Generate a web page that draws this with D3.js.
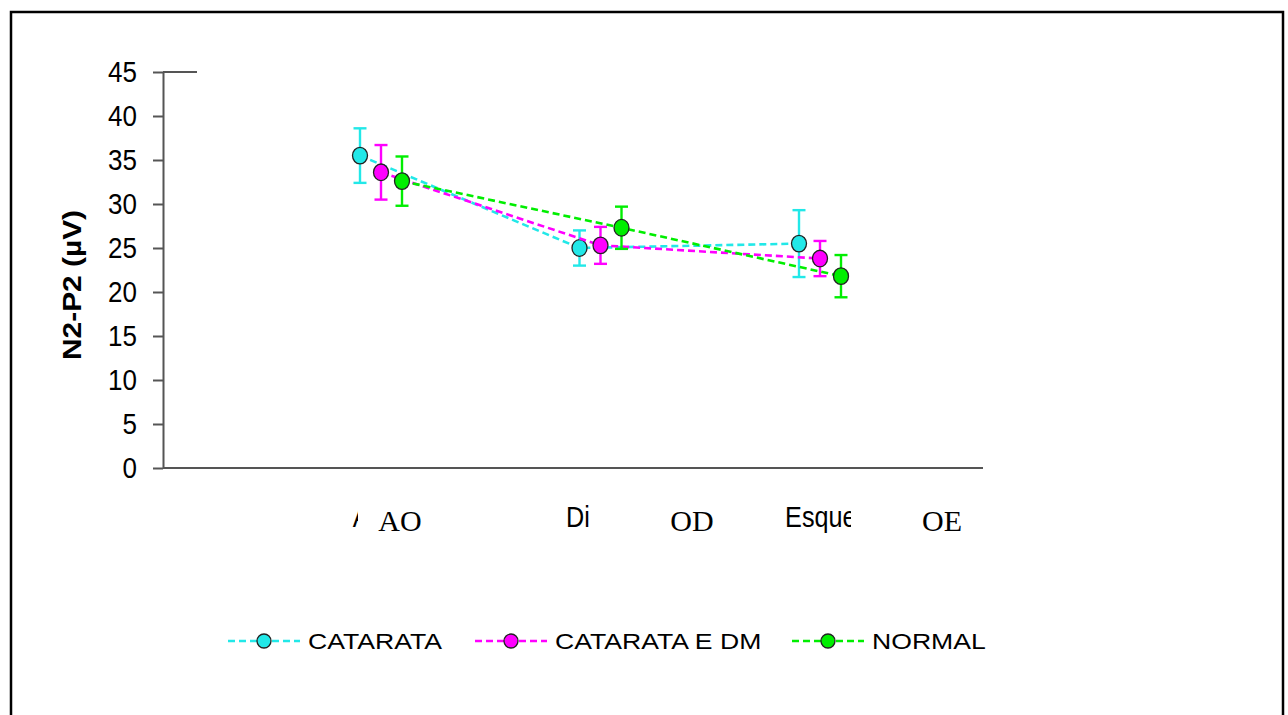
<!DOCTYPE html>
<html>
<head>
<meta charset="utf-8">
<script src="https://cdn.jsdelivr.net/npm/d3@7"></script>
<style>
  body { margin: 0; background: #fff; }
  svg { display: block; }
</style>
</head>
<body>
<div class="chart-wrapper"></div>
<script>
// categories (original labels, partly hidden) and the overlay labels
const categories = ["Ambos", "Direito", "Esquerdo"]
const overlayLabels = ["AO", "OD", "OE"]
const yTicks = [0, 5, 10, 15, 20, 25, 30, 35, 40, 45]

const seriesNames = ["CATARATA", "CATARATA E DM", "NORMAL"]
const seriesColors = ["#22e8e8", "#ff00ff", "#00ee00"]
const catarata = [35.5, 25.0, 25.5]
const catarataErr = [3.1, 2.0, 3.8]
const catarataDm = [33.6, 25.3, 23.8]
const catarataDmErr = [3.1, 2.1, 2.0]
const normal = [32.6, 27.3, 21.8]
const normalErr = [2.8, 2.4, 2.4]

const seriesValues = [catarata, catarataDm, normal]
const seriesErrors = [catarataErr, catarataDmErr, normalErr]

const width = 1288, height = 715

const svg = d3.select('.chart-wrapper')
  .append('svg')
  .attr('width', width)
  .attr('height', height)

// outer frame
svg.append('rect')
  .attr('x', 11).attr('y', 12)
  .attr('width', 1272).attr('height', 720)
  .attr('fill', 'none')
  .attr('stroke', '#000')
  .attr('stroke-width', 2.5)

const y = d3.scaleLinear().domain([0, 45]).range([468, 72])
const x = d3.scalePoint().domain(categories).range([381, 820])
const offset = d3.scalePoint().domain(seriesNames).range([-21, 21])

const axisLeft = 163, axisRight = 983

// y axis
const yAxis = svg.append('g')
  .attr('transform', 'translate(' + axisLeft + ',0)')
  .call(d3.axisLeft(y).tickValues(yTicks).tickSize(10).tickSizeOuter(0).tickPadding(16))
yAxis.select('.domain').attr('stroke', '#555').attr('stroke-width', 2)
yAxis.selectAll('.tick line').attr('stroke', '#555').attr('stroke-width', 2)
yAxis.selectAll('.tick text')
  .attr('font-family', 'Liberation Sans, Arial, sans-serif')
  .attr('font-size', 26)
  .attr('fill', '#000')
  .attr('transform', 'scale(1,1.12)')

// short stub at the top of the plot
svg.append('line')
  .attr('x1', axisLeft).attr('x2', 197)
  .attr('y1', y(45)).attr('y2', y(45))
  .attr('stroke', '#555').attr('stroke-width', 2)

// x axis line
svg.append('line')
  .attr('x1', axisLeft).attr('x2', axisRight)
  .attr('y1', y(0)).attr('y2', y(0))
  .attr('stroke', '#555').attr('stroke-width', 2)

// y label
svg.append('text')
  .attr('transform', 'translate(81,' + 285 + ') rotate(-90) scale(1.15,1)')
  .attr('text-anchor', 'middle')
  .attr('font-family', 'Liberation Sans, Arial, sans-serif')
  .attr('font-weight', 'bold')
  .attr('font-size', 26)
  .text('N2-P2 (\u00b5V)')

// series
seriesNames.forEach(function (name, i) {
  const vals = seriesValues[i]
  const errs = seriesErrors[i]
  const color = seriesColors[i]
  const pts = categories.map(function (c, k) {
    return { x: x(c) + offset(name), v: vals[k], e: errs[k] }
  })
  const g = svg.append('g')

  g.append('path')
    .datum(pts)
    .attr('fill', 'none')
    .attr('stroke', color)
    .attr('stroke-width', 2.6)
    .attr('stroke-dasharray', '7,4')
    .attr('d', d3.line().x(function (d) { return d.x }).y(function (d) { return y(d.v) }))

  const eb = g.selectAll('.err').data(pts).enter().append('g')
  eb.append('line')
    .attr('x1', function (d) { return d.x }).attr('x2', function (d) { return d.x })
    .attr('y1', function (d) { return y(d.v + d.e) }).attr('y2', function (d) { return y(d.v - d.e) })
    .attr('stroke', color).attr('stroke-width', 2.4)
  eb.append('line')
    .attr('x1', function (d) { return d.x - 6.5 }).attr('x2', function (d) { return d.x + 6.5 })
    .attr('y1', function (d) { return y(d.v + d.e) }).attr('y2', function (d) { return y(d.v + d.e) })
    .attr('stroke', color).attr('stroke-width', 2.4)
  eb.append('line')
    .attr('x1', function (d) { return d.x - 6.5 }).attr('x2', function (d) { return d.x + 6.5 })
    .attr('y1', function (d) { return y(d.v - d.e) }).attr('y2', function (d) { return y(d.v - d.e) })
    .attr('stroke', color).attr('stroke-width', 2.4)

  g.selectAll('.dot').data(pts).enter().append('ellipse')
    .attr('cx', function (d) { return d.x })
    .attr('cy', function (d) { return y(d.v) })
    .attr('rx', 7.5).attr('ry', 8.3)
    .attr('fill', color)
    .attr('stroke', '#222').attr('stroke-width', 1.3)
})

// original category labels
const labelDx = [11, 2, 19]
categories.forEach(function (c, k) {
  svg.append('text')
    .attr('transform', 'translate(' + (x(c) + labelDx[k]) + ',527) scale(1.05,1.2)')
    .attr('text-anchor', 'middle')
    .attr('font-family', 'Liberation Sans, Arial, sans-serif')
    .attr('font-size', 24)
    .text(c)
})

// white boxes that hide part of the labels
const boxes = [[358, 490, 90, 56], [591, 485, 132, 60], [851, 485, 125, 60]]
boxes.forEach(function (b) {
  svg.append('rect')
    .attr('x', b[0]).attr('y', b[1]).attr('width', b[2]).attr('height', b[3])
    .attr('fill', '#fff')
})

const overlayX = [400, 692, 942]
overlayLabels.forEach(function (t, k) {
  svg.append('text')
    .attr('x', overlayX[k]).attr('y', 531)
    .attr('text-anchor', 'middle')
    .attr('font-family', 'Liberation Serif, Times New Roman, serif')
    .attr('font-size', 30)
    .text(t)
})

// legend
const legendX = [228, 475, 792]
seriesNames.forEach(function (name, i) {
  const lg = svg.append('g').attr('transform', 'translate(' + legendX[i] + ',641)')
  lg.append('line')
    .attr('x1', 0).attr('x2', 72)
    .attr('stroke', seriesColors[i]).attr('stroke-width', 2.6)
    .attr('stroke-dasharray', '7,4')
  lg.append('circle')
    .attr('cx', 36).attr('r', 7)
    .attr('fill', seriesColors[i])
    .attr('stroke', '#222').attr('stroke-width', 1.3)
  lg.append('text')
    .attr('transform', 'translate(80,8) scale(1.33,1.12)')
    .attr('font-family', 'Liberation Sans, Arial, sans-serif')
    .attr('font-size', 20)
    .text(name)
})
</script>
</body>
</html>
